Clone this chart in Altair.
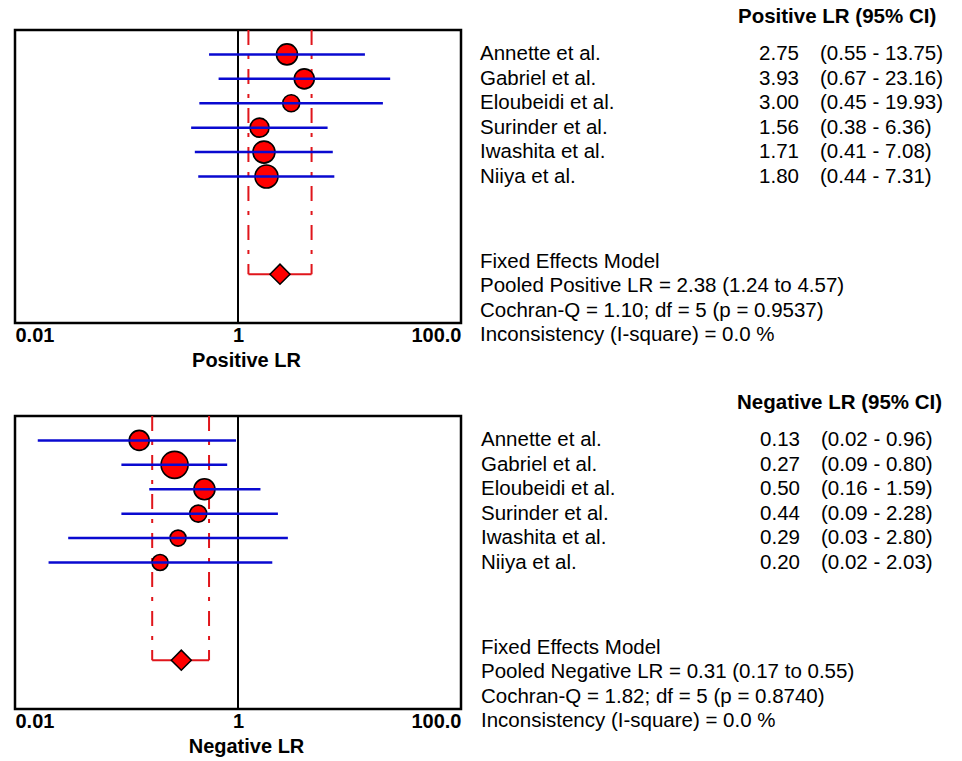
import altair as alt
import pandas as pd

# ---------------- data ----------------
studies = ["Annette et al.", "Gabriel et al.", "Eloubeidi et al.",
           "Surinder et al.", "Iwashita et al.", "Niiya et al."]

pos_lr = [2.75, 3.93, 3.00, 1.56, 1.71, 1.80]
pos_lo = [0.55, 0.67, 0.45, 0.38, 0.41, 0.44]
pos_hi = [13.75, 23.16, 19.93, 6.36, 7.08, 7.31]
pos_weight = [441, 400, 289, 361, 484, 529]      # marker area (study weight)

neg_lr = [0.13, 0.27, 0.50, 0.44, 0.29, 0.20]
neg_lo = [0.016, 0.09, 0.16, 0.09, 0.03, 0.02]
neg_hi = [0.96, 0.80, 1.59, 2.28, 2.80, 2.03]
neg_weight = [400, 729, 441, 289, 256, 256]

pos_pooled = [2.38, 1.24, 4.57]       # estimate, lower, upper
neg_pooled = [0.31, 0.17, 0.55]
pos_stats = [1.10, 5, 0.9537, 0.0]    # Cochran-Q, df, p, I-square
neg_stats = [1.82, 5, 0.8740, 0.0]

tick_values = [0.01, 1, 100]
tick_labels = ["0.01", "1", "100.0"]

# ---------------- styling ----------------
FONT = "Liberation Sans"
FS = 20.5
W, H = 446, 293
RED = "#ff0000"
DRED = "#e0151b"
BLUE = "#0a0ad0"

study_rows = list(range(len(studies)))
POOL_ROW = 9
TOP_ROW = -1
HEADER_ROW = -1.55
SUMMARY_ROWS = [8.5, 9.5, 10.5, 11.5]

label_expr = (f"datum.value < 0.1 ? '{tick_labels[0]}' : "
              f"datum.value < 10 ? '{tick_labels[1]}' : '{tick_labels[2]}'")


def panel(name, est, lo, hi, weight, pooled, stats, cols):
    xs = alt.Scale(type="log", domain=[tick_values[0], tick_values[-1]], nice=False)
    ys = alt.Scale(domain=[-1, 11], reverse=True, zero=False, nice=False)
    ax = alt.Axis(values=tick_values, labelExpr=label_expr, ticks=False, tickSize=0,
                  domain=False, grid=False, labelFlush=True, labelOverlap=False,
                  labelFont=FONT, labelFontSize=20, labelFontWeight="bold",
                  labelColor="black", labelPadding=2,
                  title=name, titleFont=FONT, titleFontSize=20, titleFontWeight="bold",
                  titleColor="black", titlePadding=5, titleX=231)

    def X(f):
        return alt.X(f, type="quantitative", scale=xs, axis=ax)

    def Y(f):
        return alt.Y(f, type="quantitative", scale=ys, axis=None)

    df = pd.DataFrame({
        "name": studies, "row": study_rows, "est": est, "lo": lo, "hi": hi, "w": weight,
        "val": [f"{v:.2f}" for v in est],
        "ci": [f"({a:.2f} - {b:.2f})" for a, b in zip(lo, hi)],
    })
    dfp = pd.DataFrame({"est": [pooled[0]], "lo": [pooled[1]], "hi": [pooled[2]],
                        "row": [POOL_ROW], "top": [TOP_ROW]})
    dfb = pd.DataFrame({"x": [pooled[1], pooled[2]], "top": [TOP_ROW, TOP_ROW],
                        "row": [POOL_ROW, POOL_ROW]})
    dfone = pd.DataFrame({"x": [1]})
    q, dof, p, i2 = stats
    lines = ["Fixed Effects Model",
             f"Pooled {name} = {pooled[0]:.2f} ({pooled[1]:.2f} to {pooled[2]:.2f})",
             f"Cochran-Q = {q:.2f}; df =  {dof} (p = {p:.4f})",
             f"Inconsistency (I-square) = {i2:.1f} %"]
    dfs = pd.DataFrame({"row": SUMMARY_ROWS, "txt": lines})
    dfh = pd.DataFrame({"row": [HEADER_ROW], "txt": [f"{name} (95% CI)"]})

    one = alt.Chart(dfone).mark_rule(color="black", strokeWidth=2).encode(x=X("x"))
    dashed = alt.Chart(dfb).mark_rule(color=DRED, strokeWidth=2,
                                      strokeDash=[15, 10, 4, 10]).encode(
        x=X("x"), y=Y("top"), y2="row")
    bracket = alt.Chart(dfp).mark_rule(color=DRED, strokeWidth=2).encode(
        x=X("lo"), x2="hi", y=Y("row"))
    dots = alt.Chart(df).mark_point(shape="circle", filled=True, fill=RED, stroke="black",
                                    strokeWidth=1.6, opacity=1).encode(
        x=X("est"), y=Y("row"), size=alt.Size("w:Q", scale=None, legend=None))
    cis = alt.Chart(df).mark_rule(color=BLUE, strokeWidth=2.5).encode(
        x=X("lo"), x2="hi", y=Y("row"))
    diamond = alt.Chart(dfp).mark_point(shape="diamond", filled=True, fill=RED,
                                        stroke="black", strokeWidth=1.5, opacity=1,
                                        size=400).encode(x=X("est"), y=Y("row"))

    txt = dict(font=FONT, fontSize=FS, color="black", baseline="middle")
    names = alt.Chart(df).mark_text(align="left", **txt).encode(
        x=alt.value(cols["name"]), y=Y("row"), text="name:N")
    vals = alt.Chart(df).mark_text(align="right", **txt).encode(
        x=alt.value(cols["val"]), y=Y("row"), text="val:N")
    cis_t = alt.Chart(df).mark_text(align="left", **txt).encode(
        x=alt.value(cols["ci"]), y=Y("row"), text="ci:N")
    header = alt.Chart(dfh).mark_text(align="left", fontWeight="bold", **txt).encode(
        x=alt.value(cols["header"]), y=Y("row"), text="txt:N")
    summary = alt.Chart(dfs).mark_text(align="left", **txt).encode(
        x=alt.value(cols["name"]), y=Y("row"), text="txt:N")

    return alt.layer(one, dashed, bracket, dots, cis, diamond,
                     names, vals, cis_t, header, summary).properties(width=W, height=H)


top = panel("Positive LR", pos_lr, pos_lo, pos_hi, pos_weight, pos_pooled, pos_stats,
            {"name": 465, "val": 784, "ci": 805, "header": 723})
bottom = panel("Negative LR", neg_lr, neg_lo, neg_hi, neg_weight, neg_pooled, neg_stats,
               {"name": 466, "val": 785, "ci": 806, "header": 722})

chart = alt.vconcat(top, bottom, spacing=19).properties(
    padding={"left": 13, "top": 5, "right": 5, "bottom": 5},
    background="white",
).configure_view(stroke="black", strokeWidth=2.5)

chart.save("out.html", embed_options={"renderer": "svg", "actions": False})
